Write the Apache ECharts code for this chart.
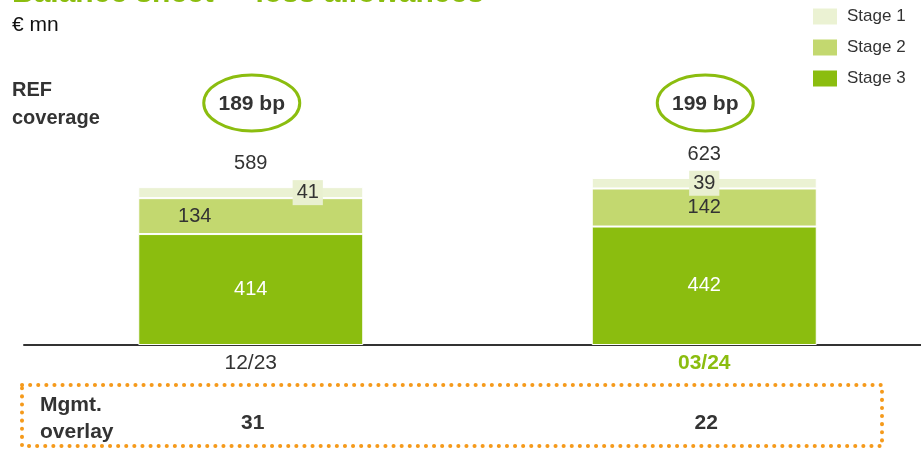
<!DOCTYPE html>
<html>
    <head>
        <meta charset="utf-8">
        <script src="https://cdn.jsdelivr.net/npm/echarts@6/dist/echarts.min.js"></script>
        <style>
            html, body { margin: 0; padding: 0; background: #fff; }
            #main { width: 921px; height: 450px; }
        </style>
    </head>
    <body>
        <div id="main"></div>
        <script>
            var categories = ['12/23', '03/24'];
            var stage1 = [41, 39];
            var stage2 = [134, 142];
            var stage3 = [414, 442];
            var totals = [589, 623];
            var coverage = ['189 bp', '199 bp'];
            var overlay = [31, 22];

            var GREEN = '#8bbd0f';
            var FONT = '"Liberation Sans", Arial, sans-serif';

            // small nudges so labels sit where the slide had them
            var stage1Offsets = [[57, 0], [0, 0]];
            var stage2Offsets = [[-56, 0], [0, 0]];

            var chart = echarts.init(document.getElementById('main'));

            function withOffsets(values, offsets) {
                return values.map(function (v, i) {
                    return { value: v, label: { offset: offsets[i] } };
                });
            }

            var barItem = function (color) {
                return { color: color, borderColor: '#fff', borderWidth: 1 };
            };

            chart.setOption({
                animation: false,
                textStyle: { fontFamily: FONT },
                legend: {
                    data: ['Stage 1', 'Stage 2', 'Stage 3'],
                    orient: 'vertical',
                    left: 813,
                    top: 8,
                    padding: 0,
                    icon: 'rect',
                    itemWidth: 24,
                    itemHeight: 16,
                    itemGap: 14,
                    itemStyle: { borderWidth: 0 },
                    textStyle: { fontSize: 17, color: '#333', padding: [0, 0, 0, 5] }
                },
                // the axis runs past the right edge of the slide
                grid: { left: 24, width: 907, top: 77, bottom: 105, outerBoundsMode: 'none' },
                xAxis: {
                    type: 'category',
                    data: [
                        { value: categories[0] },
                        { value: categories[1], textStyle: { color: GREEN, fontWeight: 'bold' } }
                    ],
                    axisLine: { lineStyle: { color: '#333', width: 2 } },
                    axisTick: { show: false },
                    axisLabel: { fontSize: 21, color: '#333', margin: 8 }
                },
                yAxis: {
                    type: 'value',
                    min: 0,
                    max: 1000,
                    show: false
                },
                series: [{
                    name: 'Stage 3',
                    type: 'bar',
                    stack: 'loss',
                    barWidth: 225,
                    itemStyle: barItem(GREEN),
                    label: { show: true, position: 'inside', color: '#fff', fontSize: 20 },
                    data: stage3
                }, {
                    name: 'Stage 2',
                    type: 'bar',
                    stack: 'loss',
                    itemStyle: barItem('#c3d86f'),
                    label: { show: true, position: 'inside', color: '#333', fontSize: 20 },
                    data: withOffsets(stage2, stage2Offsets)
                }, {
                    name: 'Stage 1',
                    type: 'bar',
                    stack: 'loss',
                    itemStyle: barItem('#ebf2d3'),
                    label: {
                        show: true, position: 'inside', color: '#333', fontSize: 20,
                        backgroundColor: '#e9f0d0', padding: [3, 4, 2, 4]
                    },
                    data: withOffsets(stage1, stage1Offsets)
                }, {
                    name: 'Total',
                    type: 'scatter',
                    symbolSize: 0,
                    silent: true,
                    itemStyle: { opacity: 1 },
                    label: {
                        show: true, position: 'top', distance: 14,
                        color: '#333', fontSize: 20,
                        formatter: function (p) { return totals[p.dataIndex]; }
                    },
                    data: totals
                }]
            });

            // annotations placed at the category centres
            var graphics = [{
                type: 'text', x: 12, y: -6,
                style: { text: 'Balance sheet \u2013  loss allowances', fill: GREEN, font: 'bold 30px ' + FONT, verticalAlign: 'middle' }
            }, {
                type: 'text', x: 12, y: 15,
                style: { text: '\u20ac mn', fill: '#111', font: '21px ' + FONT, verticalAlign: 'top' }
            }, {
                type: 'text', x: 12, y: 76,
                style: { text: 'REF\ncoverage', fill: '#333', font: 'bold 20px ' + FONT, lineHeight: 28, verticalAlign: 'top' }
            }, {
                type: 'rect',
                shape: { x: 22, y: 385, width: 860, height: 61 },
                style: { fill: 'none', stroke: '#f59a1b', lineWidth: 4, lineDash: [0.1, 8], lineCap: 'round' }
            }, {
                type: 'text', x: 40, y: 392,
                style: { text: 'Mgmt.\noverlay', fill: '#333', font: 'bold 21px ' + FONT, lineHeight: 27, verticalAlign: 'top' }
            }];

            categories.forEach(function (c, i) {
                var x = chart.convertToPixel({ xAxisIndex: 0 }, i);
                graphics.push({
                    type: 'ellipse',
                    shape: { cx: x + 1, cy: 103, rx: 48, ry: 28 },
                    style: { fill: '#fff', stroke: GREEN, lineWidth: 3 }
                });
                graphics.push({
                    type: 'text', x: x + 1, y: 104,
                    style: { text: coverage[i], fill: '#333', font: 'bold 21px ' + FONT, align: 'center', verticalAlign: 'middle' }
                });
                graphics.push({
                    type: 'text', x: x + 2, y: 423,
                    style: { text: String(overlay[i]), fill: '#333', font: 'bold 21px ' + FONT, align: 'center', verticalAlign: 'middle' }
                });
            });

            chart.setOption({ graphic: graphics });
        </script>
    </body>
</html>
